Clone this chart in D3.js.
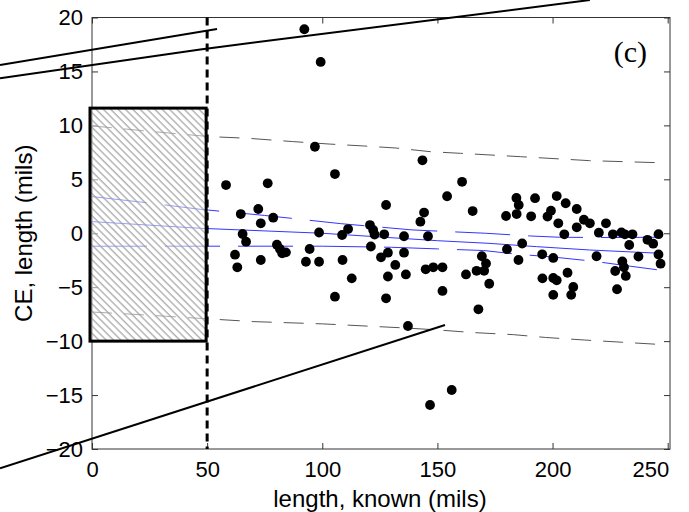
<!DOCTYPE html>
<html>
<head>
<meta charset="utf-8">
<script src="https://cdn.jsdelivr.net/npm/d3@7"></script>
<style>
  html, body { margin: 0; padding: 0; background: #fff; }
  svg { display: block; }
</style>
</head>
<body>
<svg id="chart" width="689" height="512"></svg>
<script>
// ---------- data ----------
const xTicks = [0, 50, 100, 150, 200, 250];
const yTicks = [-20, -15, -10, -5, 0, 5, 10, 15, 20];

// scatter: known length (mils) vs CE length (mils)
const knownLength = [92.2, 99.3, 96.8, 105.5, 58.2, 76.3, 72.2, 64.6, 78.7, 73.3,
  65.4, 66.9, 62.1, 63.1, 73.3, 80.3, 81.6, 82.6, 84.2, 92.9,
  94.5, 98.6, 98.6, 105.5, 108.6, 111.2, 108.8, 112.8, 120.7, 122.1,
  122.7, 121.1, 125.5, 127.7, 126.9, 128.5, 131.7, 128.5, 127.7, 135.5,
  135.5, 136.3, 137.2, 143.5, 144.2, 142.6, 145.9, 144.9, 148.2, 152.2,
  152.2, 154.2, 146.8, 156.2, 160.7, 165.3, 162.4, 167.0, 170.3, 169.3,
  171.1, 172.5, 167.8, 179.8, 180.2, 184.3, 185.3, 184.4, 186.8, 185.2,
  192.4, 190.7, 201.8, 205.7, 210.5, 199.3, 197.8, 202.5, 205.1, 210.5,
  213.6, 216.2, 220.1, 223.2, 226.2, 229.9, 231.4, 234.7, 233.3, 237.3,
  241.2, 243.7, 246.0, 246.0, 246.9, 219.1, 195.5, 200.3, 195.6, 200.3,
  201.8, 206.5, 209.0, 208.1, 200.3, 227.2, 230.3, 231.0, 231.8, 228.0];
const ceLength = [18.91, 15.88, 8.02, 5.49, 4.47, 4.63, 2.25, 1.78, 1.44, 0.92,
  -0.07, -0.78, -1.99, -3.16, -2.48, -1.06, -1.46, -1.86, -1.77, -2.64,
  -1.46, 0.07, -2.64, -5.88, -0.16, 0.39, -2.48, -4.18, 0.76, 0.30,
  -0.12, -1.23, -2.23, 2.62, -0.10, -1.80, -2.94, -4.01, -6.03, -0.28,
  -1.80, -3.82, -8.60, 6.76, 1.92, 1.07, -0.28, -3.34, -3.16, -3.16,
  -5.35, 3.43, -15.92, -14.53, 4.77, 2.06, -3.82, -3.48, -3.48, -2.13,
  -2.80, -4.68, -7.05, 1.60, -1.48, 3.27, 2.62, 1.78, -0.95, -2.48,
  3.25, 1.57, 3.45, 2.78, 2.25, 2.09, 1.55, 0.92, -0.10, 0.55,
  1.25, 0.92, 0.05, 0.92, -0.10, 0.07, -0.10, -0.10, -1.09, -2.16,
  -0.61, -0.97, -0.09, -1.97, -2.82, -2.13, -1.95, -2.29, -4.18, -4.15,
  -4.36, -3.66, -4.98, -5.71, -5.71, -3.50, -2.62, -3.16, -3.96, -5.19];

// regression line and confidence bands (blue)
const fitLine   = [[0, 1.08], [47, 0.46], [100, 0.0], [150, -0.69], [172, -0.93], [193, -1.24], [216, -1.55], [246, -1.85]];
const confUpper = [[0, 3.4], [25, 2.8], [47, 2.22], [75, 1.65], [108, 0.89], [139, 0.31], [155, 0.15], [171, 0.0], [190, -0.25], [203, -0.37], [225, -0.4], [246, -0.37]];
const confLower = [[0, -1.2], [50, -1.2], [100, -1.2], [130, -1.3], [150, -1.45], [170, -1.6], [185, -1.95], [200, -2.2], [218, -2.6], [230, -2.95], [246, -3.4]];

// prediction bands (gray dashed)
const predUpper = [[0, 9.95], [25, 9.45], [51, 8.96], [68, 8.8], [87, 8.5], [103, 8.27], [118, 8.09], [132, 7.9], [147, 7.56], [160, 7.41], [186, 7.1], [216, 6.73], [246, 6.54]];
const predLower = [[0, -7.3], [25, -7.6], [50, -7.93], [70, -8.19], [100, -8.4], [135, -8.77], [150, -8.96], [165, -9.2], [183, -9.4], [197, -9.66], [214, -9.9], [230, -10.1], [246, -10.3]];

// solid black limit lines (extend outside the axes)
const limitA = [[-39.95, 15.60], [54.3, 18.93]];
const limitB = [[-39.95, 14.36], [47.0, 17.04], [216.2, 21.62]];
const limitC = [[-39.95, -21.79], [153.3, -8.50]];

// excluded region (hatched box) and threshold
const boxX = [0, 50];
const boxY = [-10, 11.6];
const thresholdX = 50;

const panelLabel = "(c)";
const xLabel = "length, known (mils)";
const yLabel = "CE, length (mils)";

// ---------- drawing ----------
const svg = d3.select("#chart");
const pL = 92, pR = 670, pT = 17.5, pB = 449;
const x = d3.scaleLinear().domain([0, 251]).range([pL, pR]);
const y = d3.scaleLinear().domain([-20, 20]).range([pB, pT]);

const defs = svg.append("defs");
const pat = defs.append("pattern")
  .attr("id", "hatch").attr("patternUnits", "userSpaceOnUse")
  .attr("width", 5.2).attr("height", 5.2)
  .attr("patternTransform", "rotate(-45)");
pat.append("rect").attr("width", 5.2).attr("height", 5.2).attr("fill", "white").attr("fill-opacity", 0.5);
pat.append("line").attr("x1", 1).attr("y1", 0).attr("x2", 1).attr("y2", 5.2)
  .attr("stroke", "#9a9a9a").attr("stroke-width", 1.1);

const font = "'Liberation Sans', Arial, sans-serif";

// frame
svg.append("rect").attr("x", pL).attr("y", pT).attr("width", pR - pL).attr("height", pB - pT)
  .attr("fill", "none").attr("stroke", "#333").attr("stroke-width", 1);

// axes with inward ticks
const xAxisB = d3.axisBottom(x).tickValues(xTicks).tickSize(-6).tickPadding(12).tickFormat(d3.format("d"));
const xAxisT = d3.axisTop(x).tickValues(xTicks).tickSize(-6).tickFormat("");
const yAxisL = d3.axisLeft(y).tickValues(yTicks).tickSize(-6).tickPadding(9).tickFormat(d3.format("d"));
const yAxisR = d3.axisRight(y).tickValues(yTicks).tickSize(-6).tickFormat("");

function styleAxis(g) {
  g.select(".domain").remove();
  g.selectAll(".tick line").attr("stroke", "#333");
  g.selectAll(".tick text").attr("fill", "#000").style("font-family", font).style("font-size", "22px");
}
const gxb = svg.append("g").attr("transform", `translate(0,${pB})`).call(xAxisB).call(styleAxis);
// last x label kept inside the right edge, as in the original
gxb.selectAll(".tick").filter(d => d === xTicks[xTicks.length - 1]).select("text")
  .attr("text-anchor", "end").attr("x", 1);
svg.append("g").attr("transform", `translate(0,${pT})`).call(xAxisT).call(styleAxis);
svg.append("g").attr("transform", `translate(${pL},0)`).call(yAxisL).call(styleAxis);
svg.append("g").attr("transform", `translate(${pR},0)`).call(yAxisR).call(styleAxis);

const line = d3.line().x(d => x(d[0])).y(d => y(d[1]));

// prediction bands
[predUpper, predLower].forEach(p => {
  svg.append("path").attr("d", line(p)).attr("fill", "none")
    .attr("stroke", "#555").attr("stroke-width", 1).attr("stroke-dasharray", "20,12");
});
// confidence bands and fit
[confUpper, confLower].forEach(p => {
  svg.append("path").attr("d", line(p)).attr("fill", "none")
    .attr("stroke", "#3535ff").attr("stroke-width", 1).attr("stroke-dasharray", "55,18");
});
svg.append("path").attr("d", line(fitLine)).attr("fill", "none")
  .attr("stroke", "#3535ff").attr("stroke-width", 1);

// hatched excluded box
svg.append("rect")
  .attr("x", x(boxX[0]) - 2).attr("y", y(boxY[1]))
  .attr("width", x(boxX[1]) - x(boxX[0]) + 1).attr("height", y(boxY[0]) - y(boxY[1]))
  .attr("fill", "url(#hatch)").attr("stroke", "#000").attr("stroke-width", 3);

// threshold dashed line
svg.append("line").attr("x1", x(thresholdX)).attr("x2", x(thresholdX)).attr("y1", pT).attr("y2", pB)
  .attr("stroke", "#000").attr("stroke-width", 3).attr("stroke-dasharray", "8,5");

// scatter
svg.append("g").selectAll("circle").data(knownLength.map((k, i) => [k, ceLength[i]]))
  .join("circle").attr("cx", d => x(d[0])).attr("cy", d => y(d[1])).attr("r", 4.9).attr("fill", "#000");

// limit lines
[limitA, limitB, limitC].forEach(p => {
  svg.append("path").attr("d", line(p)).attr("fill", "none").attr("stroke", "#000").attr("stroke-width", 2);
});

// labels
svg.append("text").attr("x", 647).attr("y", 62).attr("text-anchor", "end")
  .style("font-family", "'Liberation Serif', 'Times New Roman', serif").style("font-size", "30px").text(panelLabel);
svg.append("text").attr("x", 380).attr("y", 507).attr("text-anchor", "middle")
  .style("font-family", font).style("font-size", "24px").text(xLabel);
svg.append("text").attr("transform", `translate(32,${(pT + pB) / 2}) rotate(-90)`).attr("text-anchor", "middle")
  .style("font-family", font).style("font-size", "24px").text(yLabel);
</script>
</body>
</html>
